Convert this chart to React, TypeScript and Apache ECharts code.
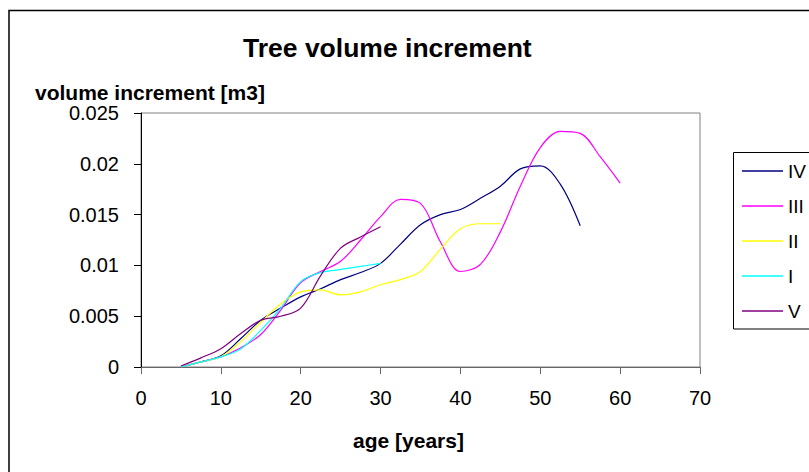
import React, { useEffect, useRef } from "react";
import * as echarts from "echarts";

const ages = [5, 7.5, 10, 12.5, 15, 17.5, 20, 22.5, 25, 27.5, 30, 32.5, 35, 37.5, 40, 42.5, 45, 47.5, 50, 52.5, 55, 57.5, 60];

const seriesNames = ["IV", "III", "II", "I", "V"];
const seriesColors = ["#000080", "#FF00FF", "#FFFF00", "#00FFFF", "#800080"];

const valuesIV = [0, 0.0005, 0.0011, 0.0028, 0.0046, 0.0058, 0.0069, 0.0077, 0.0086, 0.0093, 0.0102, 0.0121, 0.014, 0.015, 0.0155, 0.0166, 0.0178, 0.0195, 0.0198, 0.018, 0.0139];
const valuesIII = [0, 0.0005, 0.001, 0.0019, 0.0032, 0.0056, 0.0083, 0.0094, 0.0104, 0.0125, 0.0148, 0.0165, 0.0161, 0.0123, 0.0094, 0.0101, 0.0133, 0.0178, 0.0216, 0.0232, 0.023, 0.0207, 0.0181];
const valuesII = [0, 0.0005, 0.001, 0.0025, 0.0044, 0.0062, 0.0074, 0.0076, 0.0071, 0.0074, 0.0081, 0.0086, 0.0094, 0.0116, 0.0136, 0.0141, 0.0141];
const valuesI = [0, 0.0005, 0.001, 0.0018, 0.0036, 0.0058, 0.0084, 0.0093, 0.0096, 0.0099, 0.0102];
const valuesV = [0.0001, 0.0009, 0.0018, 0.0033, 0.0046, 0.005, 0.0058, 0.009, 0.0117, 0.0128, 0.0138];

const allValues = [valuesIV, valuesIII, valuesII, valuesI, valuesV];

const yTickLabels = ["0", "0.005", "0.01", "0.015", "0.02", "0.025"];

const FONT = "'Liberation Sans', Arial, sans-serif";

export default function App() {
  const ref = useRef<HTMLDivElement>(null);
  useEffect(() => {
    if (!ref.current) return;
    const chart = echarts.init(ref.current, null, { renderer: "svg" });
    const series = seriesNames.map((name, i) => ({
      name,
      type: "line",
      smooth: 0.35,
      symbol: "none",
      data: allValues[i].map((v, j) => [ages[j], v]),
      lineStyle: { color: seriesColors[i], width: 1.2 },
      itemStyle: { color: seriesColors[i] },
    }));
    chart.setOption({
      animation: false,
      backgroundColor: "#fff",
      textStyle: { fontFamily: FONT },
      title: {
        text: "Tree volume increment",
        left: 243,
        top: 34,
        padding: 0,
        textStyle: { fontFamily: FONT, fontSize: 26.5, fontWeight: "bold", color: "#000" },
      },
      graphic: [
        {
          type: "rect",
          z: -10,
          shape: { x: 9, y: 10.5, width: 900, height: 600 },
          style: { fill: "none", stroke: "#000", lineWidth: 1.5 },
        },
        {
          type: "rect",
          z: -10,
          shape: { x: 733.5, y: 152.5, width: 200, height: 176.5 },
          style: { fill: "#fff", stroke: "#000", lineWidth: 1 },
        },
      ],
      legend: {
        orient: "vertical",
        left: 742,
        top: 161,
        padding: 0,
        itemWidth: 41,
        itemHeight: 20,
        itemGap: 15,
        icon: "path://M0,0 H41 V1.6 H0 Z",
        data: seriesNames,
        textStyle: { fontFamily: FONT, fontSize: 19, color: "#000", lineHeight: 20 },
      },
      grid: {
        left: 141,
        top: 113,
        width: 559,
        height: 254,
        show: true,
        borderColor: "#808080",
        borderWidth: 1,
        backgroundColor: "#fff",
      },
      xAxis: {
        type: "value",
        min: 0,
        max: 70,
        interval: 10,
        name: "age [years]",
        nameLocation: "middle",
        nameGap: 63,
        nameTextStyle: { fontFamily: FONT, fontSize: 21, fontWeight: "bold", color: "#000", padding: [0, 24, 0, 0] },
        axisLine: { show: true, lineStyle: { color: "#666", width: 1 } },
        axisTick: { show: true, inside: false, length: 7, lineStyle: { color: "#666" } },
        axisLabel: { margin: 21, fontFamily: FONT, fontSize: 20, color: "#000" },
        splitLine: { show: false },
      },
      yAxis: {
        type: "value",
        min: 0,
        max: 0.025,
        interval: 0.005,
        name: "volume increment [m3]",
        nameLocation: "end",
        nameGap: 1,
        nameTextStyle: { fontFamily: FONT, fontSize: 21, fontWeight: "bold", color: "#000", align: "left", padding: [0, 0, 0, -106] },
        axisLine: { show: true, lineStyle: { color: "#000", width: 1 } },
        axisTick: { show: true, inside: false, length: 7, lineStyle: { color: "#000" } },
        axisLabel: {
          margin: 22,
          fontFamily: FONT,
          fontSize: 20,
          color: "#000",
          formatter: (v: number) => yTickLabels[Math.round(v / 0.005)] ?? String(v),
        },
        splitLine: { show: false },
      },
      series,
    });
    return () => chart.dispose();
  }, []);
  return (
    <div
      ref={ref}
      style={{ position: "absolute", left: 0, top: 0, width: 809, height: 472, background: "#fff" }}
    />
  );
}
